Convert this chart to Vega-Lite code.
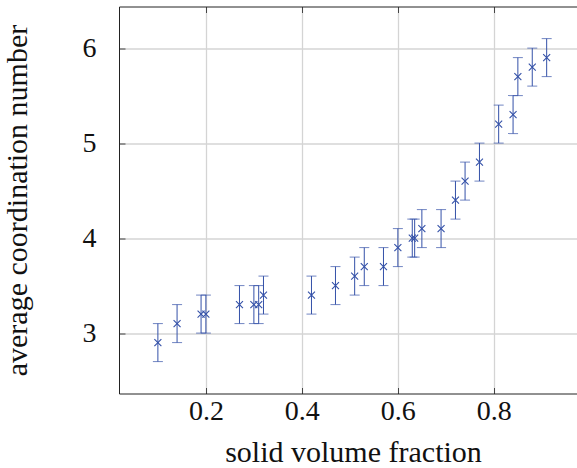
{
  "$schema": "https://vega.github.io/schema/vega-lite/v6.json",
  "width": 458,
  "height": 387,
  "autosize": "none",
  "padding": {"left": 119, "top": 6.5, "right": 0, "bottom": 74.5},
  "background": "white",
  "view": {"stroke": null},
  "config": {
    "axis": {
      "labelFont": "Liberation Serif",
      "labelFontSize": 28,
      "labelColor": "#111",
      "titleFont": "Liberation Serif",
      "titleFontSize": 30,
      "titleFontWeight": "normal",
      "titleColor": "#111",
      "domainColor": "#222",
      "domainWidth": 1,
      "tickColor": "#444",
      "tickWidth": 1,
      "gridColor": "#d4d4d4",
      "gridWidth": 1.3
    }
  },
  "resolve": {"axis": {"x": "independent", "y": "independent"}},
  "data": {
    "values": [
      {"x": 0.10, "y": 2.9, "lo": 2.7, "hi": 3.1},
      {"x": 0.14, "y": 3.1, "lo": 2.9, "hi": 3.3},
      {"x": 0.19, "y": 3.2, "lo": 3.0, "hi": 3.4},
      {"x": 0.20, "y": 3.2, "lo": 3.0, "hi": 3.4},
      {"x": 0.27, "y": 3.3, "lo": 3.1, "hi": 3.5},
      {"x": 0.30, "y": 3.3, "lo": 3.1, "hi": 3.5},
      {"x": 0.31, "y": 3.3, "lo": 3.1, "hi": 3.5},
      {"x": 0.32, "y": 3.4, "lo": 3.2, "hi": 3.6},
      {"x": 0.42, "y": 3.4, "lo": 3.2, "hi": 3.6},
      {"x": 0.47, "y": 3.5, "lo": 3.3, "hi": 3.7},
      {"x": 0.51, "y": 3.6, "lo": 3.4, "hi": 3.8},
      {"x": 0.53, "y": 3.7, "lo": 3.5, "hi": 3.9},
      {"x": 0.57, "y": 3.7, "lo": 3.5, "hi": 3.9},
      {"x": 0.60, "y": 3.9, "lo": 3.7, "hi": 4.1},
      {"x": 0.63, "y": 4.0, "lo": 3.8, "hi": 4.2},
      {"x": 0.635, "y": 4.0, "lo": 3.8, "hi": 4.2},
      {"x": 0.65, "y": 4.1, "lo": 3.9, "hi": 4.3},
      {"x": 0.69, "y": 4.1, "lo": 3.9, "hi": 4.3},
      {"x": 0.72, "y": 4.4, "lo": 4.2, "hi": 4.6},
      {"x": 0.74, "y": 4.6, "lo": 4.4, "hi": 4.8},
      {"x": 0.77, "y": 4.8, "lo": 4.6, "hi": 5.0},
      {"x": 0.81, "y": 5.2, "lo": 5.0, "hi": 5.4},
      {"x": 0.84, "y": 5.3, "lo": 5.1, "hi": 5.5},
      {"x": 0.85, "y": 5.7, "lo": 5.5, "hi": 5.9},
      {"x": 0.88, "y": 5.8, "lo": 5.6, "hi": 6.0},
      {"x": 0.91, "y": 5.9, "lo": 5.7, "hi": 6.1}
    ]
  },
  "layer": [
    {
      "mark": {"type": "rule", "color": "#3451a8", "strokeWidth": 1},
      "encoding": {
        "x": {
          "field": "x", "type": "quantitative",
          "scale": {"domain": [0.019, 0.9732], "nice": false, "zero": false},
          "axis": {
            "orient": "bottom",
            "title": "solid volume fraction",
            "values": [0.2, 0.4, 0.6, 0.8],
            "format": ".1f",
            "grid": true,
            "tickSize": -6,
            "labelPadding": 10,
            "titleBaseline": "alphabetic",
            "titleY": 68,
            "titleX": 234
          }
        },
        "y": {
          "field": "lo", "type": "quantitative",
          "scale": {"domain": [2.364, 6.438], "nice": false, "zero": false},
          "axis": {
            "orient": "left",
            "title": "average coordination number",
            "values": [3, 4, 5, 6],
            "format": "d",
            "grid": true,
            "tickSize": -6,
            "labelPadding": 29,
            "titleBaseline": "alphabetic",
            "titleX": -93
          }
        },
        "y2": {"field": "hi"}
      }
    },
    {
      "mark": {"type": "tick", "orient": "horizontal", "color": "#3451a8", "size": 10, "thickness": 1},
      "encoding": {
        "x": {"field": "x", "type": "quantitative", "axis": null},
        "y": {"field": "lo", "type": "quantitative", "axis": null}
      }
    },
    {
      "mark": {"type": "tick", "orient": "horizontal", "color": "#3451a8", "size": 10, "thickness": 1},
      "encoding": {
        "x": {"field": "x", "type": "quantitative", "axis": null},
        "y": {"field": "hi", "type": "quantitative", "axis": null}
      }
    },
    {
      "mark": {"type": "point", "shape": "M-1,-1L1,1M-1,1L1,-1", "filled": false, "color": "#3451a8", "size": 49, "strokeWidth": 1.1, "opacity": 1},
      "encoding": {
        "x": {
          "field": "x", "type": "quantitative",
          "axis": {
            "orient": "top",
            "title": null,
            "labels": false,
            "values": [0.2, 0.4, 0.6, 0.8],
            "grid": false,
            "tickSize": -6
          }
        },
        "y": {"field": "y", "type": "quantitative", "axis": null}
      }
    }
  ]
}
